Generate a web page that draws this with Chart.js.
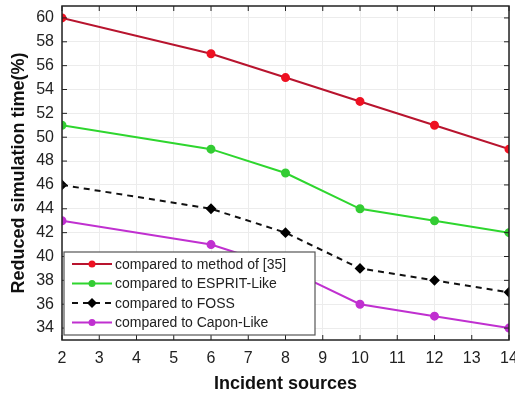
<!DOCTYPE html>
<html><head><meta charset="utf-8">
<script src="https://cdn.jsdelivr.net/npm/chart.js@4/dist/chart.umd.min.js"></script>
<style>html,body{margin:0;padding:0;background:#fff}#wrap{width:515px;height:396px}</style>
</head><body><div id="wrap"><canvas id="c" width="515" height="396"></canvas></div>
<script>
const sources = [2, 6, 8, 10, 12, 14];
const method35 = [60, 57, 55, 53, 51, 49];
const espritLike = [51, 49, 47, 44, 43, 42];
const foss = [46, 44, 42, 39, 38, 37];
const caponLike = [43, 41, 39, 36, 35, 34];
const seriesLabels = ['compared to method of [35]', 'compared to ESPRIT-Like', 'compared to FOSS', 'compared to Capon-Like'];
const xTicks = [2,3,4,5,6,7,8,9,10,11,12,13,14];
const yTicks = [34,36,38,40,42,44,46,48,50,52,54,56,58,60];

function pts(arr){ return sources.map((x,i)=>({x:x,y:arr[i]})); }

const styles = [
  {line:'#b8142e', pt:'#ee1122', shape:'circle', dash:[]},
  {line:'#2ed62e', pt:'#33cc33', shape:'circle', dash:[]},
  {line:'#111111', pt:'#000000', shape:'rectRot', dash:[6,5]},
  {line:'#c030d0', pt:'#c030d0', shape:'circle', dash:[]}
];
const values = [method35, espritLike, foss, caponLike];

const datasets = values.map((v,i)=>({
  label: seriesLabels[i],
  data: pts(v),
  borderColor: styles[i].line,
  backgroundColor: styles[i].pt,
  pointBackgroundColor: styles[i].pt,
  pointBorderColor: styles[i].pt,
  pointStyle: styles[i].shape,
  pointRadius: styles[i].shape==='rectRot'?4:3.5,
  borderWidth: 2,
  borderDash: styles[i].dash,
  tension: 0
}));

const FONT = 'Arial, "Liberation Sans", sans-serif';

const frame = {
  id:'frame',
  afterDatasetsDraw(chart){
    const {ctx, chartArea:a, scales} = chart;
    ctx.save();
    ctx.strokeStyle='#222'; ctx.lineWidth=1.5;
    ctx.strokeRect(a.left, a.top, a.right-a.left, a.bottom-a.top);
    ctx.lineWidth=1;
    xTicks.forEach(t=>{
      const x = scales.x.getPixelForValue(t);
      ctx.beginPath(); ctx.moveTo(x,a.bottom); ctx.lineTo(x,a.bottom-5);
      ctx.moveTo(x,a.top); ctx.lineTo(x,a.top+5); ctx.stroke();
    });
    yTicks.forEach(t=>{
      const y = scales.y.getPixelForValue(t);
      ctx.beginPath(); ctx.moveTo(a.left,y); ctx.lineTo(a.left+5,y);
      ctx.moveTo(a.right,y); ctx.lineTo(a.right-5,y); ctx.stroke();
    });
    // legend
    const lx = a.left+2, ly = 252, lw = 251, lh = 83;
    ctx.fillStyle='#fff'; ctx.fillRect(lx,ly,lw,lh);
    ctx.strokeStyle='#555'; ctx.lineWidth=1.2; ctx.strokeRect(lx,ly,lw,lh);
    ctx.font='14px '+FONT;
    ctx.textBaseline='middle';
    chart.data.datasets.forEach((d,i)=>{
      const y = ly+12+i*19.5;
      ctx.strokeStyle=d.borderColor; ctx.lineWidth=2; ctx.setLineDash(d.borderDash);
      ctx.beginPath(); ctx.moveTo(lx+8,y); ctx.lineTo(lx+48,y); ctx.stroke();
      ctx.setLineDash([]);
      ctx.fillStyle=d.pointBackgroundColor;
      ctx.beginPath();
      if(d.pointStyle==='rectRot'){ctx.moveTo(lx+28,y-5);ctx.lineTo(lx+33,y);ctx.lineTo(lx+28,y+5);ctx.lineTo(lx+23,y);ctx.closePath();}
      else ctx.arc(lx+28,y,3.5,0,Math.PI*2);
      ctx.fill();
      ctx.fillStyle='#222';
      ctx.fillText(d.label, lx+51, y+1);
    });
    ctx.restore();
  }
};

new Chart(document.getElementById('c'), {
  type:'line',
  data:{datasets},
  options:{
    responsive:false, animation:false,
    layout:{padding:{top:6,right:2,left:8,bottom:0}},
    plugins:{legend:{display:false}, tooltip:{enabled:false}},
    scales:{
      x:{type:'linear', min:2, max:14,
        afterBuildTicks(s){ s.ticks = xTicks.map(v=>({value:v})); },
        afterFit(s){ s.height = 56; s.paddingLeft = 0; s.paddingRight = 0; },
        grid:{color:'#ececec', drawTicks:false},
        border:{display:false},
        ticks:{color:'#222', padding:9, font:{family:FONT, size:16}, maxRotation:0, autoSkip:false},
        title:{display:true, text:'Incident sources', color:'#111', padding:{top:2, bottom:1}, font:{family:FONT, size:18, weight:'bold'}}
      },
      y:{type:'linear', min:33, max:61,
        afterBuildTicks(s){ s.ticks = yTicks.map(v=>({value:v})); },
        afterFit(s){ s.width = 54; s.paddingTop = 0; s.paddingBottom = 0; },
        grid:{color:'#ececec', drawTicks:false},
        border:{display:false},
        ticks:{color:'#222', padding:8, font:{family:FONT, size:16}, autoSkip:false},
        title:{display:true, text:'Reduced simulation time(%)', color:'#111', padding:{top:0, bottom:2}, font:{family:FONT, size:18, weight:'bold'}}
      }
    }
  },
  plugins:[frame]
});
</script></body></html>
